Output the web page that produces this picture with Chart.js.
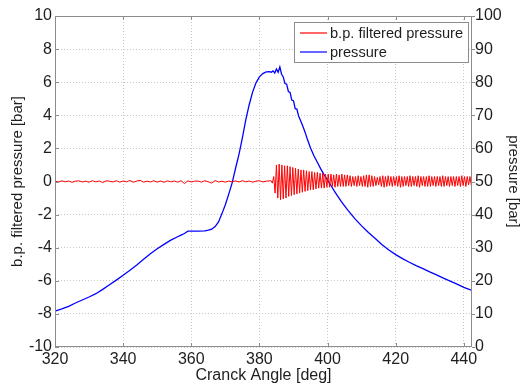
<!DOCTYPE html>
<html>
<head>
<meta charset="utf-8">
<script src="https://cdn.jsdelivr.net/npm/chart.js@4.4.1/dist/chart.umd.min.js"></script>
<style>
  html, body { margin: 0; padding: 0; background: #fff; }
  #wrap { width: 523px; height: 387px; }
</style>
</head>
<body>
<div id="wrap"><canvas id="pressureChart" width="523" height="387"></canvas></div>
<script>
  // cylinder pressure trace (right axis) [deg] / [bar]
  var pressureAngle = [320, 322, 324, 326, 328, 330, 332, 334, 336, 338,
    340, 342, 344, 346, 348, 350, 352, 354, 356, 357,
    358, 359, 360, 362, 364, 365, 366, 367, 368, 369,
    370, 371, 372, 373, 374, 375, 376, 377, 378, 379,
    380, 381, 382, 383, 383.5, 384, 384.5, 385, 385.5, 386,
    386.5, 387, 387.5, 388, 388.5, 389, 389.5, 390, 390.5, 391,
    391.5, 392, 392.5, 393, 393.5, 394, 395, 396, 397, 398,
    399, 400, 401, 402, 404, 406, 408, 410, 412, 414,
    416, 418, 420, 422, 424, 426, 428, 430, 432, 434,
    436, 438, 440, 442.4];
  var pressure = [10.8, 11.5, 12.3, 13.3, 14.2, 15.1, 16.1, 17.4, 18.8, 20.2,
    21.7, 23.2, 24.8, 26.5, 28.2, 29.7, 31.0, 32.3, 33.3, 33.8,
    34.3, 35.0, 35.0, 35.0, 35.1, 35.3, 35.6, 36.4, 37.8, 40.3,
    43.0, 46.2, 49.6, 54.0, 58.2, 63.2, 68.6, 73.2, 77.0, 79.8,
    81.6, 82.6, 83.1, 83.2, 83.0, 83.4, 82.8, 84.0, 83.0, 84.6,
    82.4, 81.6, 79.6, 79.4, 77.2, 76.9, 74.6, 74.4, 72.0, 71.9,
    69.8, 68.6, 67.4, 66.0, 64.6, 63.0, 60.1, 57.8, 55.8, 53.8,
    52.0, 50.4, 48.8, 47.1, 44.0, 41.3, 38.8, 36.6, 34.6, 32.8,
    30.9, 29.3, 27.9, 26.7, 25.6, 24.6, 23.7, 22.7, 21.8, 20.8,
    19.9, 19.0, 18.0, 17.1];

  // band-pass filtered pressure (left axis) [bar]
  // quiet part: one sample per degree from 320 to 383
  var bpQuietStart = 320, bpQuietStep = 1;
  var bpQuiet = [0.02, -0.03, 0.04, -0.02, 0.03, -0.05, 0.02, 0.04, -0.03, 0.02,
    -0.04, 0.05, -0.02, 0.03, -0.06, 0.04, 0.02, -0.03, 0.05, -0.04,
    0.03, -0.02, 0.06, -0.05, 0.03, 0.07, -0.04, 0.02, -0.03, 0.05,
    -0.04, 0.03, -0.05, 0.04, -0.02, 0.03, -0.04, 0.05, -0.12, 0.04,
    -0.03, 0.02, 0.03, -0.04, 0.05, -0.02, -0.1, 0.06, -0.03, 0.02,
    -0.04, 0.03, -0.02, 0.04, -0.03, 0.05, -0.02, 0.03, -0.04, 0.02,
    0.05, -0.03, 0.02, 0.04];
  // knock part: every 0.4 deg from 383.4 on
  var bpBurstStart = 383.4, bpBurstStep = 0.4;
  var bpBurst = [0.05, -0.1, 0.3, -0.7, 1.0, -1.0, 1.05, -1.1, 1.0, -1.05,
    0.95, -1.0, 0.95, -0.9, 0.9, -0.85, 0.85, -0.8, 0.8, -0.75,
    0.75, -0.7, 0.7, -0.65, 0.7, -0.6, 0.65, -0.55, 0.6, -0.5,
    0.6, -0.5, 0.55, -0.45, 0.55, -0.4, 0.5, -0.4, 0.5, -0.4,
    0.45, -0.35, 0.45, -0.35, 0.45, -0.3, 0.4, -0.35, 0.45, -0.3,
    0.4, -0.3, 0.45, -0.3, 0.4, -0.3, 0.4, -0.25, 0.35, -0.3,
    0.3, -0.25, 0.3, -0.3, 0.35, -0.25, 0.3, -0.3, 0.35, -0.3,
    0.4, -0.35, 0.4, -0.3, 0.35, -0.3, 0.3, -0.25, 0.25, -0.2,
    0.3, -0.3, 0.35, -0.35, 0.3, -0.3, 0.35, -0.25, 0.3, -0.3,
    0.3, -0.25, 0.3, -0.3, 0.35, -0.35, 0.3, -0.3, 0.3, -0.25,
    0.3, -0.3, 0.35, -0.3, 0.3, -0.25, 0.3, -0.3, 0.35, -0.35,
    0.3, -0.25, 0.3, -0.3, 0.3, -0.3, 0.35, -0.3, 0.3, -0.25,
    0.3, -0.3, 0.3, -0.25, 0.3, -0.3, 0.35, -0.3, 0.3, -0.25,
    0.3, -0.3, 0.3, -0.25, 0.3, -0.3, 0.3, -0.25, 0.3, -0.3,
    0.35, -0.25, 0.3, -0.3, 0.3, -0.2, 0.3, -0.25];

  var xTicks = [320, 340, 360, 380, 400, 420, 440];
  var leftTicks = [-10, -8, -6, -4, -2, 0, 2, 4, 6, 8, 10];
  var rightTicks = [0, 10, 20, 30, 40, 50, 60, 70, 80, 90, 100];

  var pressurePoints = pressureAngle.map(function (a, i) { return { x: a, y: pressure[i] }; });
  var bpPoints = [];
  bpQuiet.forEach(function (v, i) { bpPoints.push({ x: bpQuietStart + i * bpQuietStep, y: v }); });
  bpBurst.forEach(function (v, i) { bpPoints.push({ x: +(bpBurstStart + i * bpBurstStep).toFixed(1), y: v }); });

  var fontFamily = '"Liberation Sans", Arial, Helvetica, sans-serif';
  var textColor = '#1e1e1e';
  var frameColor = '#8c8c8c';
  var gridColor = '#c8c8c8';

  function setTicks(list) {
    return function (scale) { scale.ticks = list.map(function (v) { return { value: v }; }); };
  }

  // matlab style box + inward tick marks
  var frame = {
    id: 'frame',
    afterDatasetsDraw: function (chart) {
      var a = chart.chartArea, c = chart.ctx, s = chart.scales;
      c.save();
      c.strokeStyle = frameColor;
      c.lineWidth = 1;
      c.strokeRect(Math.round(a.left) + 0.5, Math.round(a.top) + 0.5,
        Math.round(a.right - a.left) - 1, Math.round(a.bottom - a.top) - 1);
      c.beginPath();
      xTicks.forEach(function (v) {
        var px = Math.round(s.x.getPixelForValue(v)) + 0.5;
        c.moveTo(px, a.bottom); c.lineTo(px, a.bottom - 4);
        c.moveTo(px, a.top); c.lineTo(px, a.top + 4);
      });
      leftTicks.forEach(function (v) {
        var py = Math.round(s.y.getPixelForValue(v)) + 0.5;
        c.moveTo(a.left, py); c.lineTo(a.left + 4, py);
      });
      rightTicks.forEach(function (v) {
        var py = Math.round(s.y1.getPixelForValue(v)) + 0.5;
        c.moveTo(a.right, py); c.lineTo(a.right + 3, py);
      });
      c.stroke();
      c.restore();
    }
  };

  // legend box in the upper right corner of the axes
  var legendBox = {
    id: 'legendBox',
    afterDraw: function (chart) {
      var c = chart.ctx;
      var x0 = 294, y0 = 22, w = 174, h = 40;
      c.save();
      c.fillStyle = '#fff';
      c.fillRect(x0, y0, w, h);
      c.strokeStyle = frameColor;
      c.lineWidth = 1;
      c.strokeRect(x0 + 0.5, y0 + 0.5, w, h);
      c.font = '14.6px ' + fontFamily;
      c.textBaseline = 'middle';
      chart.data.datasets.forEach(function (ds, i) {
        var y = y0 + 11 + i * 19;
        c.strokeStyle = ds.borderColor;
        c.lineWidth = 1.2;
        c.beginPath();
        c.moveTo(x0 + 6, y); c.lineTo(x0 + 33, y);
        c.stroke();
        c.fillStyle = textColor;
        c.fillText(ds.label, x0 + 36, y + 1);
      });
      c.restore();
    }
  };

  var ctx = document.getElementById('pressureChart').getContext('2d');
  var pressureChart = new Chart(ctx, {
    type: 'line',
    data: {
      datasets: [{
        label: 'b.p. filtered pressure',
        data: bpPoints,
        yAxisID: 'y',
        borderColor: '#ff0000',
        borderWidth: 1,
        pointRadius: 0,
        tension: 0
      }, {
        label: 'pressure',
        data: pressurePoints,
        yAxisID: 'y1',
        borderColor: '#0000ff',
        borderWidth: 1.3,
        pointRadius: 0,
        tension: 0
      }]
    },
    options: {
      responsive: false,
      animation: false,
      devicePixelRatio: 1,
      layout: { padding: { top: 16, right: 0, bottom: 0, left: 0 } },
      plugins: { legend: { display: false }, tooltip: { enabled: false } },
      scales: {
        x: {
          type: 'linear',
          min: 320,
          max: 442.4,
          afterBuildTicks: setTicks(xTicks),
          afterFit: function (s) { s.height = 40; },
          ticks: { color: textColor, font: { family: fontFamily, size: 16 }, padding: 3, maxRotation: 0, autoSkip: false },
          grid: { color: gridColor, drawTicks: false },
          border: { display: false, dash: [1, 2] },
          title: { display: true, text: 'Cranck Angle [deg]', color: textColor,
            font: { family: fontFamily, size: 16 }, padding: { top: 0, bottom: 2 } }
        },
        y: {
          position: 'left',
          min: -10,
          max: 10,
          afterBuildTicks: setTicks(leftTicks),
          afterFit: function (s) { s.width = 55; },
          ticks: { color: textColor, font: { family: fontFamily, size: 16 }, padding: 3 },
          grid: { color: gridColor, drawTicks: false },
          border: { display: false, dash: [1, 2] },
          title: { display: true, text: 'b.p. filtered pressure [bar]', color: textColor,
            font: { family: fontFamily, size: 15 }, padding: { top: 9, bottom: 0 } }
        },
        y1: {
          position: 'right',
          min: 0,
          max: 100,
          afterBuildTicks: setTicks(rightTicks),
          afterFit: function (s) { s.width = 51; },
          ticks: { color: textColor, font: { family: fontFamily, size: 16 }, padding: 3 },
          grid: { display: false, drawTicks: false },
          border: { display: false },
          title: { display: true, text: 'pressure [bar]', color: textColor,
            font: { family: fontFamily, size: 15 }, padding: { top: 1, bottom: 0 } }
        }
      }
    },
    plugins: [frame, legendBox]
  });
</script>
</body>
</html>
